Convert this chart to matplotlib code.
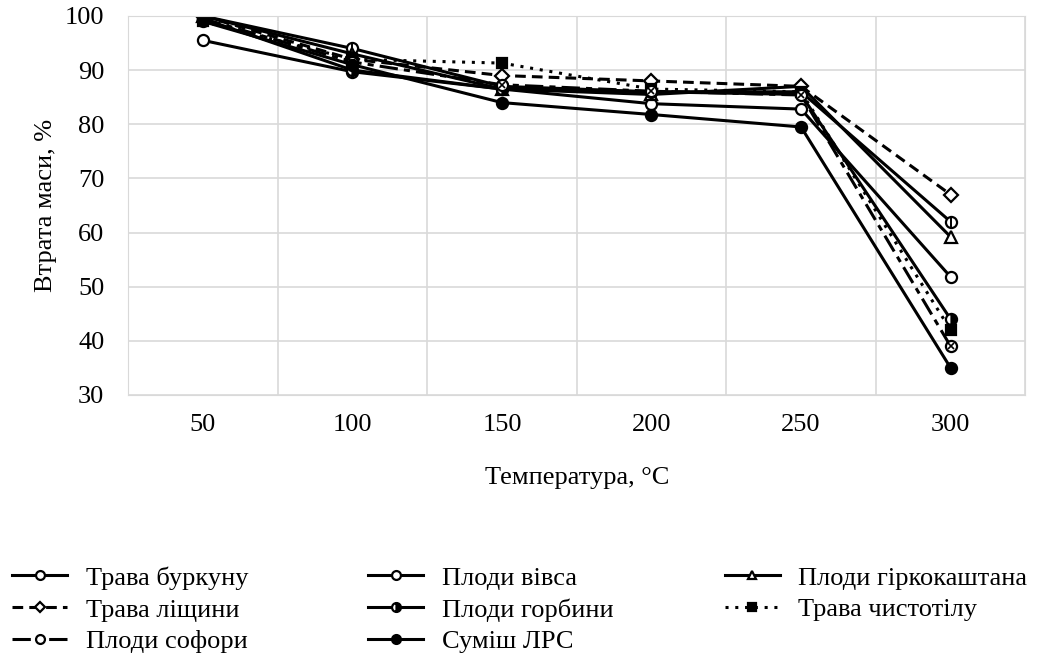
import matplotlib
matplotlib.use('Agg')
import matplotlib.pyplot as plt

plt.rcParams['font.family'] = ['Liberation Serif', 'DejaVu Serif']

temps = ['50', '100', '150', '200', '250', '300']

burkun = [95.5, 89.7, 86.5, 83.8, 82.8, 51.8]
vivs = [100, 94, 87, 86, 86, 62]
girkokashtan = [100, 93, 86.5, 85.5, 87, 59.2]
lishchyna = [100, 92, 89, 88, 87, 67]
gorbyna = [99.5, 90, 86.5, 86, 85.5, 44]
chystotil = [99, 92, 91.3, 86.5, 86, 42]
sofora = [99.5, 91.5, 87.3, 86.1, 85.4, 39]
sumish = [99, 91, 84, 81.8, 79.5, 35]

x = list(range(len(temps)))

fig = plt.figure(figsize=(10.41, 6.66), dpi=100)
ax = fig.add_axes([0.123, 0.407, 0.862, 0.569])

lw = 2.2
ms = 8
common = dict(color='black', lw=lw, ms=ms, mec='black', mew=1.6)

h_burkun, = ax.plot(x, burkun, marker='o', mfc='white', **common)
h_vivs, = ax.plot(x, vivs, marker='o', mfc='white', **common)
ax.plot(x, vivs, marker='|', ls='none', color='black', ms=ms, mew=1.4)
h_girk, = ax.plot(x, girkokashtan, marker='^', mfc='white', **common)
h_lish, = ax.plot(x, lishchyna, marker='D', mfc='white', ls=(0, (3.5, 2)),
                  **dict(common, ms=7))
h_gorb, = ax.plot(x, gorbyna, marker='o', fillstyle='right', mfc='black',
                  mfcalt='white', **common)
h_chys, = ax.plot(x, chystotil, marker='s', mfc='black', ls=(0, (1, 2.2)),
                  **dict(common, ms=7))
h_sof, = ax.plot(x, sofora, marker='o', mfc='white', ls=(0, (6, 2, 2, 2)), **common)
ax.plot(x, sofora, marker='x', ls='none', color='black', ms=4, mew=1.2)
h_sum, = ax.plot(x, sumish, marker='o', mfc='black', **common)

ax.set_xlim(-0.5, len(temps) - 0.5)
ax.set_ylim(30, 100)
ax.set_yticks(range(30, 101, 10))
ax.set_xticks(x)
ax.set_xticklabels(temps)
ax.set_xticks([i - 0.5 for i in range(len(temps) + 1)], minor=True)
ax.grid(True, which='major', axis='y', color='#d9d9d9', lw=1.2)
ax.grid(True, which='minor', axis='x', color='#d9d9d9', lw=1.2)
ax.set_axisbelow(True)
ax.tick_params(which='both', length=0, labelsize=19)
ax.tick_params(axis='y', pad=17)
ax.tick_params(axis='x', pad=14)
for s in ax.spines.values():
    s.set_color('#d9d9d9')

ax.set_xlabel('Температура, °C', fontsize=19, labelpad=22)
ax.set_ylabel('Втрата маси, %', fontsize=19, labelpad=6)

columns = [
    ([h_burkun, h_lish, h_sof], ['Трава буркуну', 'Трава ліщини', 'Плоди софори'], 0.0115),
    ([h_vivs, h_gorb, h_sum], ['Плоди вівса', 'Плоди горбини', 'Суміш ЛРС'], 0.3535),
    ([h_girk, h_chys], ['Плоди гіркокаштана', 'Трава чистотілу'], 0.696),
]
for hs, ls, xpos in columns:
    leg = fig.legend(hs, ls, loc='upper left', bbox_to_anchor=(xpos, 0.150),
                     frameon=False, fontsize=19, handlelength=2.1,
                     handletextpad=0.7, labelspacing=0.32, markerscale=0.8,
                     borderaxespad=0, borderpad=0)

fig.savefig('out.png', dpi=100)
